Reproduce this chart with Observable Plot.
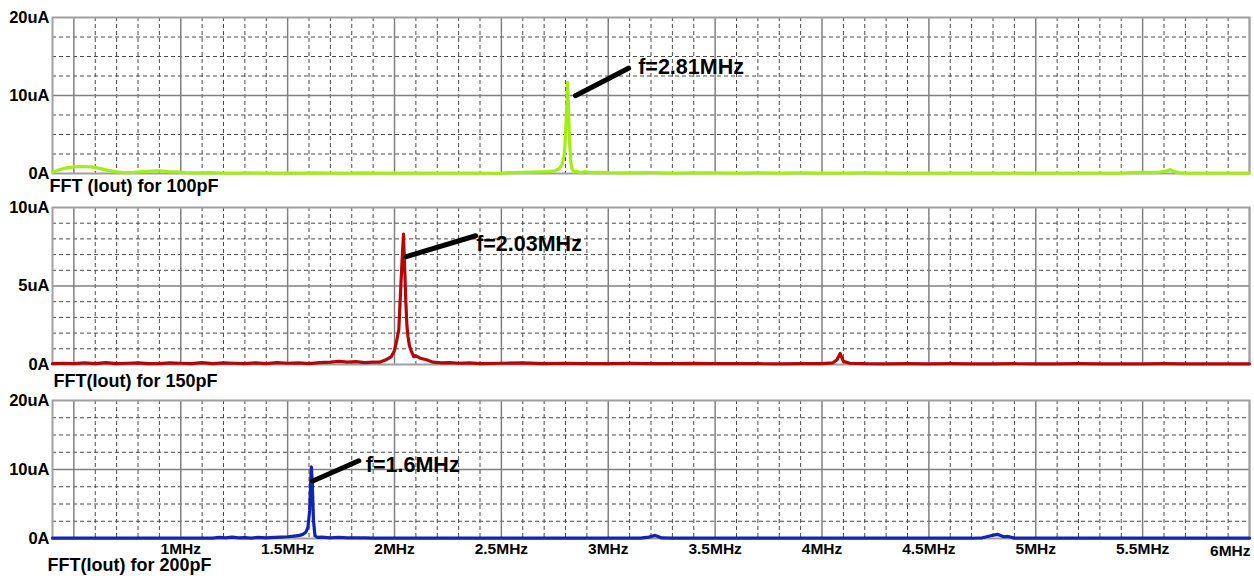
<!DOCTYPE html>
<html><head><meta charset="utf-8">
<script src="https://cdn.jsdelivr.net/npm/d3@7"></script>
<script src="https://cdn.jsdelivr.net/npm/@observablehq/plot@0.6"></script>
<style>
body{margin:0;background:#fff;}
#chart{width:1254px;height:576px;overflow:hidden;}
#chart svg{display:block;overflow:visible;background:transparent;}
</style>
</head><body><div id="chart"></div>
<script>
// ---- data (frequency in MHz, amplitude in uA) ----
const f100 = [0.40,0.43,0.46,0.50,0.54,0.58,0.62,0.66,0.70,0.74,0.78,0.82,0.86,0.90,0.94,0.98,1.02,1.08,1.14,1.20,1.26,1.32,1.38,1.44,1.50,1.56,1.62,1.68,1.74,1.80,1.86,1.92,1.98,2.04,2.10,2.16,2.22,2.28,2.34,2.40,2.46,2.49,2.52,2.56,2.60,2.64,2.68,2.72,2.75,2.77,2.785,2.795,2.80,2.805,2.81,2.815,2.82,2.825,2.83,2.84,2.85,2.87,2.89,2.92,2.95,3.0,3.1,3.2,3.3,3.4,3.5,3.6,3.7,3.8,3.9,4.0,4.1,4.2,4.3,4.4,4.5,4.6,4.7,4.8,4.9,5.0,5.1,5.2,5.3,5.4,5.45,5.5,5.55,5.58,5.61,5.63,5.65,5.68,5.72,5.8,5.9,6.0];
const a100 = [0.15,0.45,0.7,0.85,0.9,0.85,0.65,0.4,0.2,0.1,0.15,0.25,0.3,0.35,0.25,0.2,0.12,0.08,0.1,0.06,0.05,0.08,0.05,0.04,0.06,0.05,0.08,0.05,0.06,0.04,0.07,0.05,0.06,0.05,0.04,0.06,0.05,0.04,0.06,0.05,0.03,0.0,0.08,0.12,0.15,0.18,0.22,0.25,0.35,0.6,1.2,2.5,5.0,8.0,11.7,7.5,3.5,1.5,0.6,0.2,0.3,0.1,0.25,0.1,0.15,0.1,0.08,0.1,0.06,0.08,0.07,0.05,0.08,0.06,0.07,0.05,0.06,0.07,0.05,0.04,0.05,0.06,0.05,0.04,0.05,0.05,0.04,0.05,0.04,0.05,0.12,0.15,0.12,0.18,0.3,0.5,0.2,0.05,0.04,0.04,0.04,0.04];

const f150 = [0.40,0.45,0.50,0.55,0.60,0.65,0.70,0.75,0.80,0.85,0.90,0.95,1.00,1.05,1.10,1.15,1.20,1.25,1.30,1.35,1.40,1.45,1.50,1.55,1.60,1.65,1.70,1.74,1.78,1.82,1.86,1.90,1.93,1.96,1.985,2.0,2.01,2.02,2.028,2.035,2.042,2.048,2.053,2.058,2.063,2.07,2.08,2.09,2.10,2.12,2.15,2.18,2.22,2.26,2.30,2.35,2.40,2.5,2.6,2.7,2.8,2.9,3.0,3.1,3.2,3.3,3.4,3.5,3.6,3.7,3.8,3.9,4.0,4.05,4.07,4.085,4.10,4.13,4.2,4.3,4.4,4.5,4.6,4.7,4.8,4.9,5.0,5.1,5.2,5.3,5.4,5.5,5.6,5.7,5.8,5.9,6.0];
const a150 = [0.05,0.08,0.05,0.1,0.06,0.12,0.05,0.08,0.1,0.06,0.05,0.1,0.08,0.05,0.12,0.06,0.1,0.08,0.05,0.1,0.06,0.12,0.08,0.1,0.06,0.12,0.15,0.2,0.15,0.18,0.12,0.15,0.15,0.3,0.5,0.9,1.5,2.2,4.5,6.5,8.3,6.0,4.0,2.5,1.8,1.2,0.8,0.5,0.55,0.4,0.3,0.15,0.1,0.12,0.08,0.1,0.06,0.08,0.1,0.05,0.08,0.06,0.05,0.08,0.06,0.05,0.07,0.05,0.06,0.05,0.04,0.05,0.05,0.1,0.3,0.7,0.2,0.08,0.05,0.04,0.05,0.04,0.05,0.04,0.04,0.05,0.04,0.04,0.05,0.04,0.04,0.04,0.05,0.04,0.04,0.04,0.04];

const f200 = [0.40,0.5,0.6,0.7,0.8,0.9,1.0,1.1,1.15,1.18,1.21,1.24,1.27,1.30,1.33,1.36,1.40,1.44,1.47,1.50,1.53,1.556,1.571,1.585,1.595,1.603,1.608,1.611,1.615,1.621,1.628,1.64,1.66,1.70,1.74,1.78,1.82,1.86,1.90,1.95,2.0,2.2,2.4,2.6,2.8,3.0,3.15,3.19,3.22,3.25,3.3,3.5,3.7,3.9,4.1,4.3,4.5,4.7,4.75,4.79,4.82,4.85,4.87,4.9,5.0,5.2,5.4,5.6,5.8,6.0];
const a200 = [0.05,0.05,0.05,0.05,0.05,0.05,0.05,0.05,0.05,0.15,0.1,0.2,0.08,0.12,0.05,0.15,0.1,0.15,0.2,0.25,0.35,0.45,0.6,0.9,1.6,4.0,8.4,10.4,8.4,2.6,0.4,0.15,0.2,0.1,0.15,0.1,0.08,0.1,0.05,0.04,0.04,0.04,0.04,0.04,0.04,0.04,0.05,0.2,0.45,0.08,0.04,0.04,0.04,0.04,0.04,0.04,0.04,0.04,0.1,0.4,0.6,0.25,0.3,0.05,0.04,0.04,0.04,0.04,0.04,0.04];

// y ticks per panel
const yTicks100 = [0, 10, 20];
const yLabels100 = ["0A", "10uA", "20uA"];
const yTicks150 = [0, 5, 10];
const yLabels150 = ["0A", "5uA", "10uA"];
const yTicks200 = [0, 10, 20];
const yLabels200 = ["0A", "10uA", "20uA"];

// x tick labels (bottom panel)
const xTicks = [1, 1.5, 2, 2.5, 3, 3.5, 4, 4.5, 5, 5.5];
const xLabels = ["1MHz", "1.5MHz", "2MHz", "2.5MHz", "3MHz", "3.5MHz", "4MHz", "4.5MHz", "5MHz", "5.5MHz"];
const xLastTick = [6];
const xLastLabel = ["6MHz"];

const captions = ["FFT (Iout) for 100pF", "FFT(Iout) for 150pF", "FFT(Iout) for 200pF"];

// annotations: line from (f1,a1) to (f2,a2); label at (ft,at)
const ann100 = {f1: 2.846, a1: 9.98, f2: 3.095, a2: 13.5, ft: 3.14, at: 13.7, text: "f=2.81MHz"};
const ann150 = {f1: 2.055, a1: 6.87, f2: 2.38, a2: 8.2, ft: 2.382, at: 7.7, text: "f=2.03MHz"};
const ann200 = {f1: 1.618, a1: 8.33, f2: 1.833, a2: 11.26, ft: 1.866, at: 10.6, text: "f=1.6MHz"};

const xDomain = [0.4, 6];

function panel(o) {
  const data = o.freq.map((f, i) => ({f, a: o.amp[i]}));
  const solidX = d3.range(0.5, 6.01, 0.5);
  const dashX = d3.range(0.5, 6.0, 0.1).map(v => Math.round(v * 10) / 10).filter(v => Math.abs(v * 2 - Math.round(v * 2)) > 1e-6);
  const dashY = d3.range(o.yStep, o.yMax - 1e-6, o.yStep).filter(v => Math.abs(v - o.yMax / 2) > 1e-6);
  const marks = [
    Plot.ruleX(dashX, {stroke: "#4a4a4a", strokeDasharray: "4,3", strokeWidth: 1}),
    Plot.ruleY(dashY, {stroke: "#4a4a4a", strokeDasharray: "4,3", strokeWidth: 1}),
    Plot.ruleX(solidX, {stroke: "#808080", strokeWidth: 1.5}),
    Plot.ruleY([o.yMax / 2], {stroke: "#808080", strokeWidth: 1.5}),
    Plot.frame({stroke: "#a0a0a0", strokeWidth: 2}),
    Plot.axisY(o.yTicks, {tickSize: 0, tickPadding: 3, tickFormat: d => o.yLabels[o.yTicks.indexOf(d)], fontSize: 16.5, fontWeight: "bold", label: null}),
    Plot.line(data, {x: "f", y: "a", stroke: o.color, strokeWidth: 3.2, strokeLinejoin: "round"}),
    Plot.link([o.ann], {x1: "f1", y1: "a1", x2: "f2", y2: "a2", stroke: "#000", strokeWidth: 5, strokeLinecap: "round"}),
    Plot.text([o.ann], {x: "ft", y: "at", text: "text", textAnchor: "start", fontSize: 21.5, fontWeight: "bold", fill: "#000"}),
    Plot.text([o.caption], {frameAnchor: "bottom-left", textAnchor: "start", lineAnchor: "middle", dx: o.capDx, dy: o.capDy, fontSize: 18, fontWeight: "bold", fill: "#000"})
  ];
  if (o.xAxis) {
    marks.push(Plot.text(xTicks, {x: d => d, text: (d, i) => xLabels[i], frameAnchor: "bottom", lineAnchor: "middle", dy: 11, fontSize: 15.5, fontWeight: "bold", fill: "#000"}));
    marks.push(Plot.text(xLastTick, {x: d => d, text: (d, i) => xLastLabel[i], frameAnchor: "bottom", textAnchor: "end", lineAnchor: "middle", dy: 13, dx: 1, fontSize: 15.5, fontWeight: "bold", fill: "#000"}));
  }
  return Plot.plot({
    width: 1254,
    height: o.height,
    marginLeft: 52,
    marginRight: 5,
    marginTop: o.mt,
    marginBottom: o.mb,
    x: {domain: xDomain, axis: null},
    y: {domain: [0, o.yMax], axis: null},
    style: {fontFamily: "'Liberation Sans', Arial, sans-serif", fontWeight: "bold", fontSize: "16px", color: "#000", background: "transparent", overflow: "visible"},
    marks
  });
}

const chart = document.getElementById("chart");
chart.append(panel({freq: f100, amp: a100, color: "#a2ee12", yMax: 20, yStep: 2.5, yTicks: yTicks100, yLabels: yLabels100, ann: ann100, caption: captions[0], capDx: -3, capDy: 13, height: 193, mt: 17, mb: 20, xAxis: false}));
chart.append(panel({freq: f150, amp: a150, color: "#b40808", yMax: 10, yStep: 1, yTicks: yTicks150, yLabels: yLabels150, ann: ann150, caption: captions[1], capDx: 1, capDy: 17, height: 190, mt: 14, mb: 19, xAxis: false}));
chart.append(panel({freq: f200, amp: a200, color: "#1224b0", yMax: 20, yStep: 2.5, yTicks: yTicks200, yLabels: yLabels200, ann: ann200, caption: captions[2], capDx: -5, capDy: 27, height: 193, mt: 17, mb: 38, xAxis: true}));
</script>
</body></html>
